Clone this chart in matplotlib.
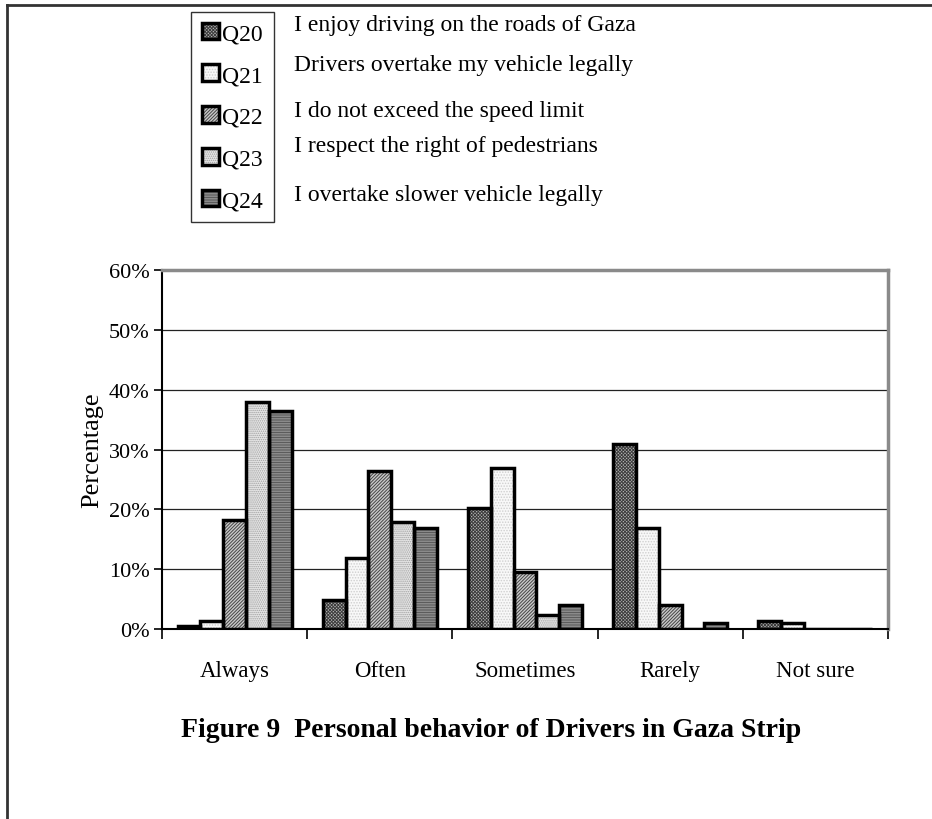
import numpy as np
import matplotlib
matplotlib.use("Agg")
import matplotlib.pyplot as plt
from matplotlib.lines import Line2D

plt.rcParams['font.family'] = ['Liberation Serif', 'DejaVu Serif']
plt.rcParams['hatch.linewidth'] = 0.7

# data (percent)
categories = ['Always', 'Often', 'Sometimes', 'Rarely', 'Not sure']
questions = ['Q20', 'Q21', 'Q22', 'Q23', 'Q24']
descriptions = ['I enjoy driving on the roads of Gaza',
                'Drivers overtake my vehicle legally',
                'I do not exceed the speed limit',
                'I respect the right of pedestrians',
                'I overtake slower vehicle legally']
q20 = [0.5, 4.9, 20.3, 30.9, 1.4]
q21 = [1.4, 11.9, 26.9, 16.9, 1.0]
q22 = [18.3, 26.4, 9.5, 4.0, 0.0]
q23 = [37.9, 17.9, 2.3, 0.0, 0.0]
q24 = [36.4, 16.9, 4.0, 1.0, 0.0]
series = [q20, q21, q22, q23, q24]

# fill colour, hatch colour, hatch pattern for each series
fills = ['#b4b4b4', '#f8f8f8', '#cacaca', '#e6e6e6', '#a2a2a2']
hatch_cols = ['#3c3c3c', '#cfcfcf', '#454545', '#a0a0a0', '#5a5a5a']
hatches = ['x' * 10, '.' * 6, '/' * 10, '.' * 8, '-' * 10]

fig = plt.figure(figsize=(9.32, 8.2), dpi=100)
ax = fig.add_axes([162/932, 1 - 630/820, (888-162)/932, (630-271)/820])

x = np.arange(len(categories))
w = 0.157
handles = []
for i, vals in enumerate(series):
    pos = x + (i - 2) * w
    b1 = ax.bar(pos, vals, w, color=fills[i], edgecolor=hatch_cols[i],
                hatch=hatches[i], linewidth=0, zorder=3)
    b2 = ax.bar(pos, vals, w, fill=False, edgecolor='black',
                linewidth=2.5, zorder=4)
    handles.append((b1.patches[0], b2.patches[0]))

ax.set_xlim(-0.5, 4.5)
ax.set_ylim(0, 60)
ax.set_yticks(np.arange(0, 61, 10))
ax.set_yticklabels([f'{v}%' for v in range(0, 61, 10)], fontsize=16)
ax.set_xticks(x)
ax.set_xticklabels(categories, fontsize=16.5)
ax.set_xticks(np.arange(-0.5, 4.6, 1), minor=True)
ax.tick_params(axis='x', which='major', length=0, pad=22)
ax.tick_params(axis='x', which='minor', length=7, direction='out', width=1.2)
ax.tick_params(axis='y', length=6, direction='out', width=1.2, pad=3)
for v in range(10, 60, 10):
    ax.axhline(v, color='#222222', linewidth=0.9, zorder=1)

ax.spines['left'].set_linewidth(1.5)
ax.spines['bottom'].set_linewidth(1.5)
ax.spines['top'].set_color('#8a8a8a')
ax.spines['top'].set_linewidth(2.5)
ax.spines['right'].set_color('#8a8a8a')
ax.spines['right'].set_linewidth(2.5)
ax.set_ylabel('Percentage', fontsize=19, labelpad=4)

leg = fig.legend(handles, questions, loc='upper left',
                 bbox_to_anchor=(191/932, 1 - 13/820), fontsize=17,
                 frameon=True, fancybox=False, edgecolor='black',
                 handlelength=0.72, handleheight=0.72, handletextpad=0.15,
                 labelspacing=0.85, borderpad=0.45, borderaxespad=0)
leg.get_frame().set_linewidth(1.0)

desc_y = [25, 66, 111, 147, 196]
for d, yy in zip(descriptions, desc_y):
    fig.text(294/932, 1 - yy/820, d, fontsize=17, va='center', ha='left')

fig.text(491/932, 1 - 731/820, 'Figure 9  Personal behavior of Drivers in Gaza Strip',
         fontsize=20, fontweight='bold', ha='center', va='center')

# outer frame (left and top lines)
fig.add_artist(Line2D([7/932, 7/932], [0, 1 - 6/820], color='#333333',
                      linewidth=2, transform=fig.transFigure))
fig.add_artist(Line2D([7/932, 1], [1 - 6/820, 1 - 6/820], color='#333333',
                      linewidth=2, transform=fig.transFigure))

fig.savefig('out.png', dpi=100)
